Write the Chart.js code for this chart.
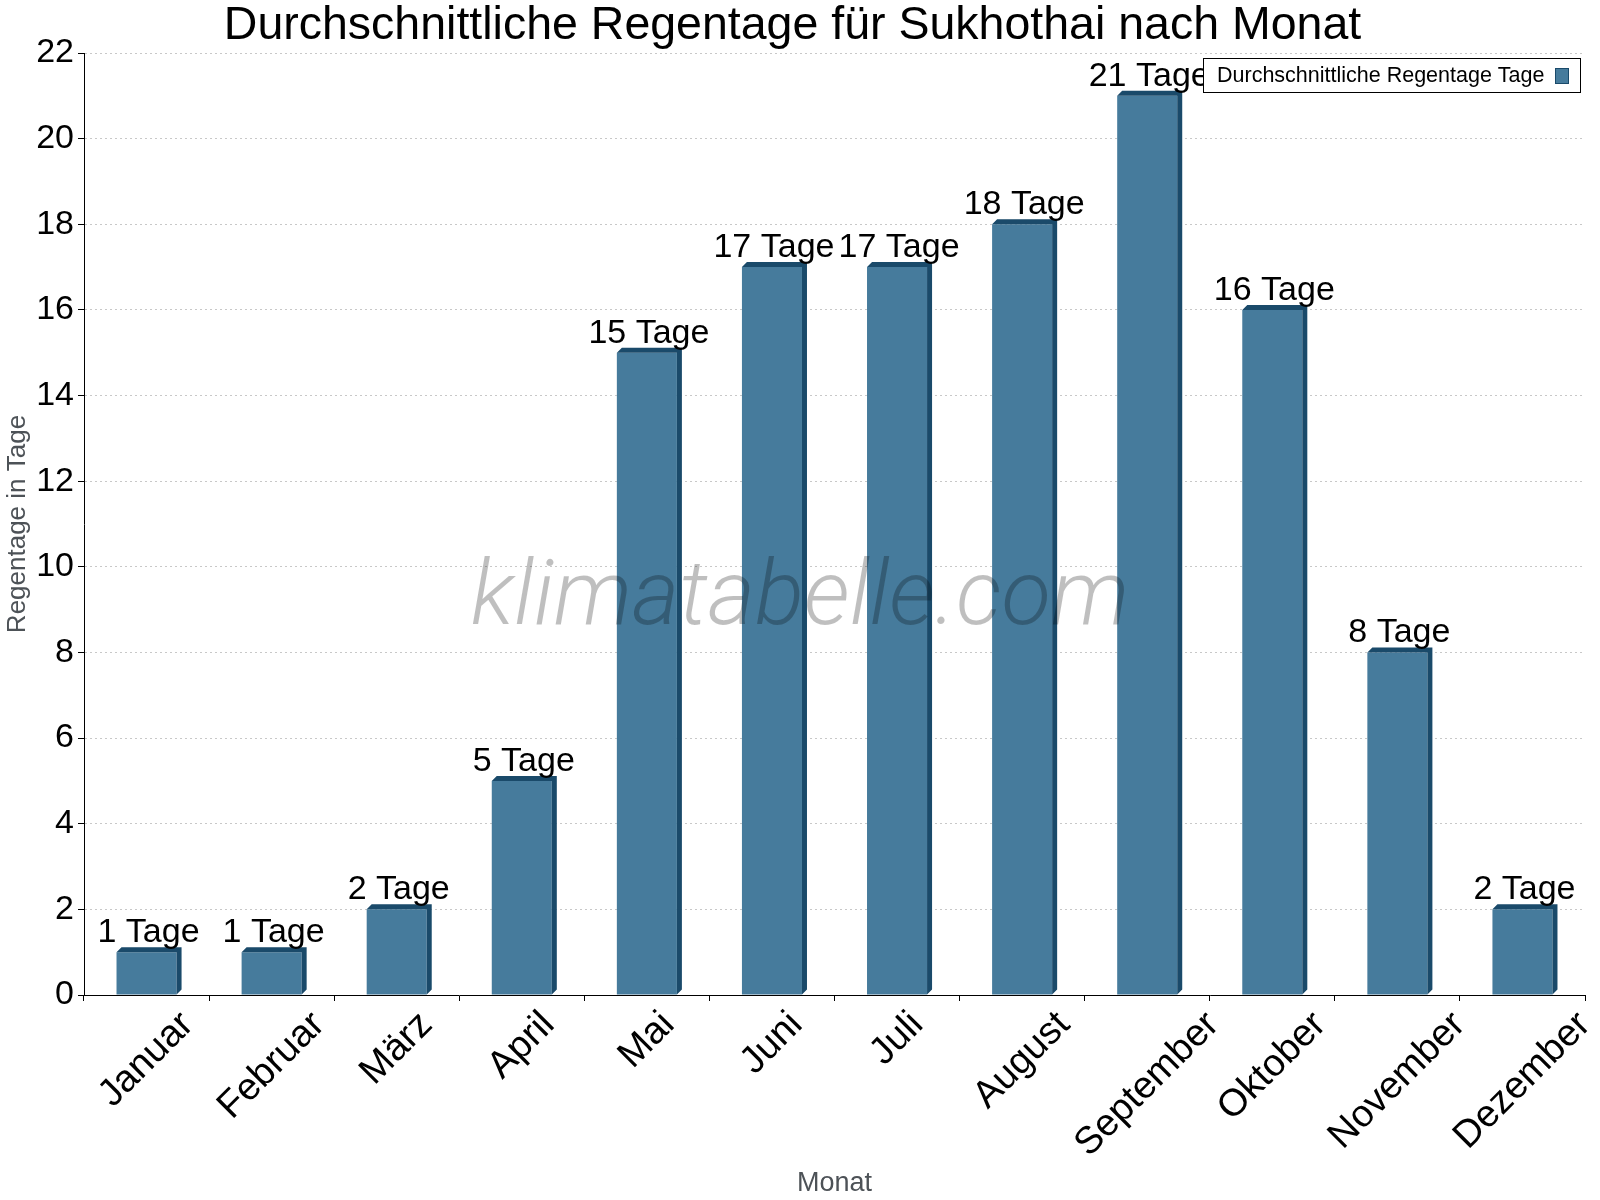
<!DOCTYPE html>
<html>
<head>
<meta charset="utf-8">
<script src="https://cdn.jsdelivr.net/npm/chart.js@4"></script>
<style>
    body { margin: 0; background: #fff; }
    #wrap { width: 1600px; height: 1200px; }
</style>
</head>
<body>
<div id="wrap"><canvas id="myChartRain"></canvas></div>
<script>
const months = ['Januar', 'Februar', 'März', 'April', 'Mai', 'Juni', 'Juli', 'August', 'September', 'Oktober', 'November', 'Dezember'];
const rainDays = [1, 1, 2, 5, 15, 17, 17, 18, 21, 16, 8, 2];
const yMax = 22;
const yStep = 2;

const frontColor = '#467b9c';
const darkColor = '#1a4a6a';
const fontFamily = "'Liberation Sans', Arial, sans-serif";
const depth = 5;
const monthFont = 38;

Chart.defaults.font.family = fontFamily;

// fake 3d faces, watermark and value labels on top of the bars
const barExtras = {
    id: 'barExtras',
    afterDatasetsDraw(chart) {
        const ctx = chart.ctx;
        const meta = chart.getDatasetMeta(0);
        ctx.save();
        ctx.fillStyle = darkColor;
        meta.data.forEach(bar => {
            const l = bar.x - bar.width / 2;
            const r = bar.x + bar.width / 2;
            ctx.beginPath();
            ctx.moveTo(l, bar.y);
            ctx.lineTo(l + depth, bar.y - depth);
            ctx.lineTo(r + depth, bar.y - depth);
            ctx.lineTo(r + depth, bar.base - depth);
            ctx.lineTo(r, bar.base);
            ctx.lineTo(r, bar.y);
            ctx.closePath();
            ctx.fill();
        });

        ctx.font = 'italic 300 91px Roboto';
        ctx.fillStyle = 'rgba(0, 0, 0, 0.25)';
        ctx.textAlign = 'center';
        ctx.textBaseline = 'alphabetic';
        ctx.fillText('klimatabelle.com', chart.width / 2, 624);

        ctx.font = '34px ' + fontFamily;
        ctx.fillStyle = '#000';
        meta.data.forEach((bar, i) => {
            ctx.fillText(rainDays[i] + ' Tage', bar.x + 2, bar.y - 10);
        });
        ctx.restore();
    },
    afterDraw(chart) {
        const ctx = chart.ctx;
        const xScale = chart.scales.x;
        ctx.save();
        // rotated month labels, box centred under the tick
        ctx.font = monthFont + 'px ' + fontFamily;
        ctx.fillStyle = '#000';
        ctx.textAlign = 'center';
        ctx.textBaseline = 'middle';
        months.forEach((m, i) => {
            const cx = xScale.getPixelForValue(i);
            const w = ctx.measureText(m).width;
            const bh = (w + monthFont * 1.1) * Math.SQRT1_2;
            ctx.save();
            ctx.translate(cx, xScale.top + 9 + bh / 2);
            ctx.rotate(-Math.PI / 4);
            ctx.fillText(m, 0, 0);
            ctx.restore();
        });

        // legend box
        ctx.fillStyle = '#fff';
        ctx.fillRect(1203.5, 58.5, 377, 34);
        ctx.strokeStyle = '#000';
        ctx.lineWidth = 1;
        ctx.strokeRect(1203.5, 58.5, 377, 34);
        ctx.font = '21.5px ' + fontFamily;
        ctx.fillStyle = '#000';
        ctx.textAlign = 'left';
        ctx.textBaseline = 'middle';
        ctx.fillText(chart.data.datasets[0].label, 1217, 76);
        ctx.fillStyle = frontColor;
        ctx.fillRect(1555.5, 68.5, 13, 15);
        ctx.strokeStyle = darkColor;
        ctx.strokeRect(1555.5, 68.5, 13, 15);
        ctx.restore();
    }
};

const ctxRain = document.getElementById('myChartRain').getContext('2d');
new Chart(ctxRain, {
    type: 'bar',
    data: {
        labels: months,
        datasets: [{
            label: 'Durchschnittliche Regentage Tage',
            data: rainDays,
            backgroundColor: frontColor,
            borderWidth: 0,
            barPercentage: 0.48,
            categoryPercentage: 1
        }]
    },
    options: {
        responsive: true,
        maintainAspectRatio: false,
        animation: false,
        layout: { padding: { left: 0, right: 15, top: 0, bottom: 0 } },
        plugins: {
            legend: { display: false },
            tooltip: { enabled: false },
            title: {
                display: true,
                text: 'Durchschnittliche Regentage für Sukhothai nach Monat',
                color: '#000',
                font: { size: 46.5, weight: 'normal', lineHeight: 1.14 },
                padding: { top: 0, bottom: 0 }
            }
        },
        scales: {
            x: {
                grid: { display: true, drawOnChartArea: false, drawTicks: true, tickLength: 6, color: '#000', tickColor: '#000' },
                border: { display: true, color: '#000', width: 1 },
                ticks: { display: false },
                title: { display: true, text: 'Monat', color: '#4d5257', font: { size: 27 }, padding: { top: 0, bottom: 0 } },
                afterFit(scale) { scale.height = 205; }
            },
            y: {
                min: 0,
                max: yMax,
                ticks: { stepSize: yStep, color: '#000', font: { size: 34 }, padding: 4 },
                grid: { color: '#c8c8c8', lineWidth: 1, tickColor: '#000', tickLength: 6, tickBorderDash: [1, 0] },
                border: { display: true, color: '#000', width: 1, dash: [2, 3] },
                title: { display: true, text: 'Regentage in Tage', color: '#4d5257', font: { size: 26 }, padding: { top: 2, bottom: 0 } },
                afterFit(scale) { scale.width = 84; }
            }
        }
    },
    plugins: [barExtras]
});
</script>
</body>
</html>
